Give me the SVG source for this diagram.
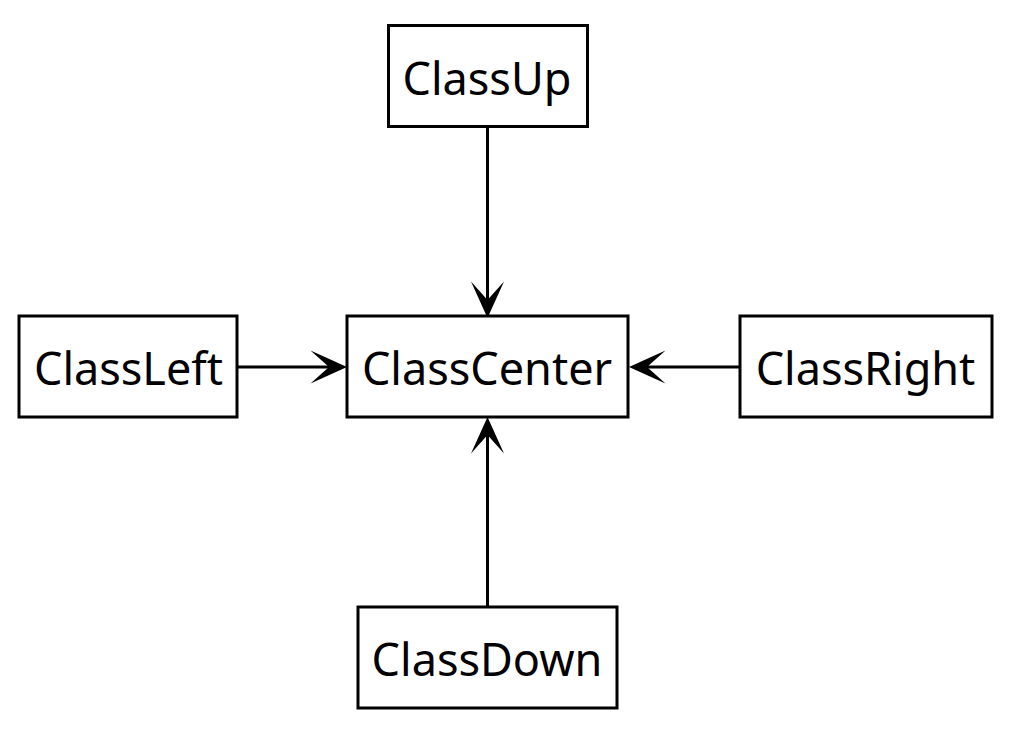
<svg xmlns="http://www.w3.org/2000/svg" width="1023" height="740" viewBox="0 0 1023 740">
  <style>
    .box { fill: #ffffff; stroke: #000000; stroke-width: 3; }
    .label { font-family: "Noto Sans", "Open Sans", sans-serif; font-size: 45px; fill: #000000; text-anchor: middle; }
    .edge { stroke: #000000; stroke-width: 3; fill: none; marker-end: url(#arrow); }
  </style>
  <defs>
    <marker id="arrow" markerUnits="userSpaceOnUse" viewBox="-20 -18 40 36" markerWidth="40" markerHeight="36" refX="0" refY="0" orient="auto">
      <path d="M18,0 L-18.5,-16.5 L0,0 L-18.5,16.5 Z" fill="#000000"/>
    </marker>
  </defs>
  <rect width="1023" height="740" fill="#ffffff"/>
  <g id="connectors">
    <line class="edge" x1="487.5" y1="127" x2="487.5" y2="300"/>
    <line class="edge" x1="237" y1="367" x2="329" y2="367"/>
    <line class="edge" x1="740" y1="367" x2="647" y2="367"/>
    <line class="edge" x1="487.5" y1="607" x2="487.5" y2="435"/>
  </g>
  <g id="ClassUp">
    <rect class="box" x="388.5" y="25.5" width="199" height="101"/>
    <text class="label" x="487" y="94.5">ClassUp</text>
  </g>
  <g id="ClassLeft">
    <rect class="box" x="19" y="316" width="218" height="101"/>
    <text class="label" x="128.5" y="385">ClassLeft</text>
  </g>
  <g id="ClassCenter">
    <rect class="box" x="347" y="316" width="281" height="101"/>
    <text class="label" x="487" y="385">ClassCenter</text>
  </g>
  <g id="ClassRight">
    <rect class="box" x="740" y="316" width="252" height="101"/>
    <text class="label" x="865.5" y="385">ClassRight</text>
  </g>
  <g id="ClassDown">
    <rect class="box" x="358" y="607" width="259" height="101"/>
    <text class="label" x="487" y="676">ClassDown</text>
  </g>
</svg>
